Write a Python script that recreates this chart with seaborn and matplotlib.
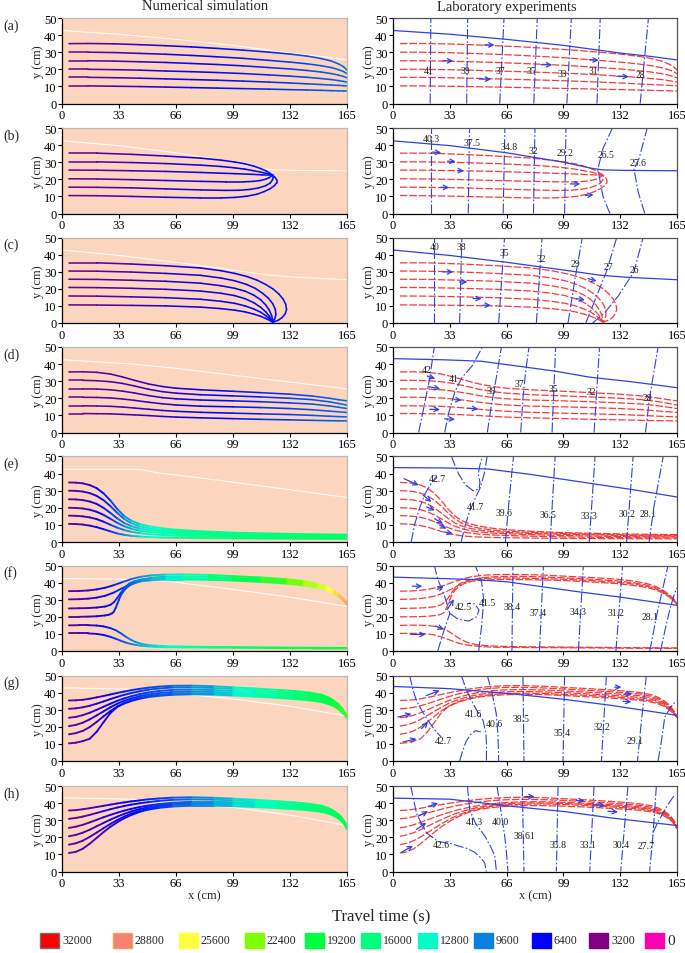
import numpy as np
import pandas as pd
import matplotlib
matplotlib.use("Agg")
import matplotlib.pyplot as plt
import seaborn as sns
from matplotlib.collections import LineCollection
from matplotlib.colors import LinearSegmentedColormap, Normalize
from matplotlib.patches import Rectangle

## Travel-time legend (s) and colours
legend_values = [32000, 28800, 25600, 22400, 19200, 16000, 12800, 9600, 6400, 3200, 0]
legend_colors = ["#FF0000", "#FA8072", "#FFFF40", "#80FF00", "#00FF40", "#00FF80",
                 "#00FFC8", "#0A80E0", "#0000FF", "#800080", "#FF00B0"]

row_labels = ["(a)", "(b)", "(c)", "(d)", "(e)", "(f)", "(g)", "(h)"]
x_ticks = [0, 33, 66, 99, 132, 165]
y_ticks = [0, 10, 20, 30, 40, 50]

# ---- streamlines (x, y in cm), six per panel ----
xg_a = [4, 15, 30, 45, 60, 75, 90, 105, 120, 132, 142, 150, 156, 160, 163, 165]
ys_a = [
    [35, 35.1, 34.9, 34.4, 33.8, 33.1, 32.2, 31.2, 30, 28.9, 27.7, 26.3, 24.8, 23.2, 21.5, 19.5],
    [30, 30, 29.8, 29.3, 28.8, 28.1, 27.3, 26.4, 25.2, 24.2, 23.2, 22.1, 21, 19.8, 18.7, 17.4],
    [25, 25, 24.8, 24.4, 24, 23.4, 22.8, 22, 21, 20.2, 19.3, 18.4, 17.5, 16.6, 15.8, 15],
    [20, 20, 19.8, 19.5, 19, 18.6, 18.1, 17.5, 16.7, 16, 15.3, 14.6, 14, 13.4, 12.9, 12.5],
    [15.3, 15.3, 15.1, 14.8, 14.4, 14, 13.6, 13.1, 12.5, 12, 11.5, 11.1, 10.8, 10.6, 10.4, 10.3],
    [10.3, 10.3, 10.1, 9.9, 9.6, 9.3, 9, 8.7, 8.4, 8.1, 7.9, 7.7, 7.5, 7.4, 7.35, 7.3],
]
stream_b = [
    [(4, 35.3), (20, 35.3), (40, 34.6), (60, 33.6), (80, 32.4), (92, 31.2), (100, 30.1), (106, 29), (111, 27.7), (115, 26.3), (118, 25), (120, 23.8), (122, 22.4)],
    [(4, 30.2), (20, 30.2), (40, 29.8), (60, 29.2), (80, 28.3), (92, 27.5), (100, 26.7), (106, 25.9), (111, 25), (115, 24.2), (118, 23.5), (120, 23), (122, 22.4)],
    [(4, 25.4), (20, 25.3), (40, 25), (60, 24.6), (80, 24), (100, 23.3), (110, 22.9), (116, 22.6), (122, 22.4)],
    [(4, 20.3), (20, 20.2), (40, 19.8), (60, 19.3), (80, 18.8), (95, 18.5), (105, 18.5), (111, 18.8), (115, 19.3), (118, 20.1), (120, 21), (122, 22.4)],
    [(4, 15.4), (20, 15.3), (40, 15), (60, 14.4), (80, 13.8), (95, 13.5), (103, 13.6), (109, 14.1), (114, 15), (118, 16.3), (120.5, 17.8), (121.8, 19.5), (122.3, 21), (122, 22.4)],
    [(4, 10.5), (20, 10.4), (40, 10), (60, 9.5), (80, 9.1), (92, 9.1), (100, 9.4), (107, 10.1), (113, 11.3), (117, 12.8), (120.5, 14.5), (123, 16.3), (124.3, 18), (124.3, 19.5), (123.5, 21), (122, 22.4)],
]
stream_c = [
    [(4, 35.2), (20, 35.2), (40, 34.5), (60, 33.5), (80, 32.2), (92, 30.6), (100, 29), (107, 27.2), (113, 25), (118, 22.5), (122, 20), (125.5, 17), (128, 14), (129.5, 11), (130, 8), (129.3, 5.5), (127.5, 3.2), (125, 1.5), (122, 0.5)],
    [(4, 30.4), (20, 30.3), (40, 29.8), (60, 29), (80, 27.9), (92, 26.3), (100, 24.7), (107, 22.5), (112, 20.2), (116, 17.5), (119.5, 14.5), (122, 11.3), (123.5, 8), (123.8, 5), (123.2, 2.5), (122, 0.5)],
    [(4, 25.6), (20, 25.5), (40, 25), (60, 24.4), (80, 23.3), (92, 21.8), (100, 20.3), (106, 18.6), (111, 16.3), (115, 13.6), (118, 10.5), (120, 7.5), (121.3, 4.5), (121.9, 2.2), (122, 0.5)],
    [(4, 20.8), (20, 20.7), (40, 20.3), (60, 19.7), (80, 18.7), (92, 17.4), (100, 16), (106, 14.2), (111, 11.9), (115, 9.2), (118, 6.5), (120, 4), (121.3, 2), (122, 0.5)],
    [(4, 15.8), (20, 15.7), (40, 15.3), (60, 14.8), (80, 13.9), (92, 12.7), (100, 11.5), (106, 10), (111, 8.2), (115, 6.3), (118, 4.3), (120.3, 2.3), (122, 0.5)],
    [(4, 10.6), (20, 10.5), (40, 10.3), (60, 10), (80, 9.3), (92, 8.4), (100, 7.5), (106, 6.5), (111, 5.2), (115, 3.9), (118, 2.6), (120.3, 1.5), (122, 0.5)],
]
xg_d = [4, 12, 20, 28, 35, 42, 50, 58, 66, 80, 99, 115, 132, 145, 155, 160, 165]
ys_d = [
    [35.4, 35.5, 35.2, 34.2, 32.5, 30.5, 28.4, 26.9, 25.9, 25, 24.1, 23.3, 22.4, 21.3, 20, 19.2, 18.5],
    [30.5, 30.5, 30.3, 29.7, 28.7, 27.2, 25.3, 23.9, 23, 22.1, 21.4, 20.8, 20, 19.2, 17.9, 17, 16],
    [25.5, 25.5, 25.4, 25, 24.2, 23.1, 21.6, 20.4, 19.7, 19, 18.5, 18, 17.3, 16.6, 15.5, 14.8, 14],
    [20.6, 20.6, 20.5, 20.2, 19.6, 18.8, 17.7, 16.8, 16.1, 15.4, 15, 14.6, 14, 13.3, 12.5, 12.1, 11.7],
    [15.6, 15.6, 15.5, 15.3, 14.9, 14.3, 13.6, 12.9, 12.4, 11.8, 11.3, 10.9, 10.5, 10, 9.5, 9.3, 9.1],
    [11.1, 11.1, 11, 10.9, 10.6, 10.3, 9.9, 9.4, 9, 8.6, 8.1, 7.7, 7.4, 7.1, 6.9, 6.85, 6.8],
]
xg_e = [4, 8, 12, 16, 20, 24, 28, 32, 36, 40, 45, 50, 58, 66, 80, 99, 120, 140, 165]
ys_e = [
    [34.8, 34.7, 34.3, 33.3, 31.5, 28.5, 24.3, 19.3, 15.2, 12.5, 10.5, 9.3, 8, 7.2, 6.3, 5.5, 5, 4.6, 4.3],
    [30, 29.9, 29.5, 28.6, 27, 24.5, 21, 17, 13.5, 11, 9.2, 8.1, 7, 6.3, 5.6, 5, 4.5, 4.1, 3.8],
    [25, 24.9, 24.5, 23.7, 22.3, 20, 17, 13.8, 11.1, 9.3, 7.9, 7, 6.1, 5.6, 5, 4.5, 4.1, 3.7, 3.4],
    [20, 19.9, 19.6, 18.9, 17.7, 15.9, 13.6, 11.2, 9.2, 7.8, 6.6, 5.9, 5.2, 4.8, 4.3, 3.8, 3.4, 3.1, 2.9],
    [15.4, 15.3, 15, 14.4, 13.4, 11.9, 10.1, 8.4, 7, 6, 5.2, 4.6, 4.1, 3.8, 3.4, 3, 2.7, 2.5, 2.4],
    [10.6, 10.5, 10.2, 9.6, 8.7, 7.5, 6.2, 5, 4.2, 3.6, 3.2, 2.9, 2.6, 2.5, 2.3, 2.1, 1.95, 1.85, 1.8],
]
xf_top = [4, 10, 15, 20, 25, 30, 35, 40, 45, 52, 60, 70, 85, 99, 115, 130, 140, 148, 153, 157, 160, 162, 164, 165]
xf_3 = [4, 10, 15, 20, 25, 28, 30, 32, 34, 36, 39, 42, 46, 52, 60, 70, 85, 99, 115, 130, 140, 148, 153, 157, 160, 162, 164, 165]
xf_4 = [4, 10, 15, 20, 25, 27, 29, 30, 31, 32, 33, 34, 36, 38, 40, 43, 46, 52, 60, 70, 85, 99, 115, 130, 140, 148, 153, 157, 160, 162, 164, 165]
xf_low = [4, 10, 15, 20, 24, 28, 31, 34, 37, 40, 43, 46, 50, 55, 60, 70, 85, 99, 120, 140, 165]
yf_1 = [35, 35.1, 35.4, 36, 37, 38.5, 40.3, 42, 43.3, 44.3, 44.7, 44.8, 44.5, 43.8, 43, 42, 40.9, 39.3, 37.6, 35.5, 33.3, 31.5, 29.3, 27.8]
yf_2 = [30.2, 30.3, 30.6, 31.2, 32.3, 34.2, 36.8, 39.4, 41.4, 42.9, 43.5, 43.7, 43.4, 42.8, 42, 41, 39.9, 38.4, 36.8, 34.8, 32.7, 31, 29, 27.5]
yf_3 = [24.9, 25, 25.1, 25.4, 26, 27, 28.5, 31, 34, 36.7, 39.5, 40.8, 41.8, 42.4, 42.7, 42.7, 42.4, 42, 41.2, 40.2, 39.1, 37.7, 36.2, 34.3, 32.3, 30.7, 28.8, 27.3]
yf_4 = [20, 20, 20.1, 20.3, 20.8, 21.2, 22, 23, 25, 27.5, 30, 32.5, 35.5, 37.5, 38.8, 40, 40.8, 41.4, 41.8, 41.8, 41.6, 41.2, 40.4, 39.4, 38.3, 37, 35.6, 33.8, 31.9, 30.3, 28.5, 27.1]
yf_5 = [15, 15.1, 15.1, 14.9, 14.4, 13.4, 12.2, 10.4, 8.3, 6.5, 5.1, 4.2, 3.5, 3.1, 2.8, 2.6, 2.4, 2.3, 2.1, 1.95, 1.8]
yf_6 = [10.3, 10.3, 10.3, 10, 9.4, 8.3, 7.2, 6, 4.9, 4.1, 3.5, 3.1, 2.7, 2.4, 2.2, 2.1, 2, 1.9, 1.75, 1.6, 1.5]
xg_gh = [4, 8, 12, 16, 20, 24, 28, 32, 36, 40, 45, 50, 56, 64, 75, 88, 99, 112, 125, 135, 143, 150, 154, 157, 160, 162, 164, 165]
ys_g = [
    [35.4, 35.5, 35.8, 36.4, 37.2, 38, 38.9, 39.8, 40.6, 41.4, 42.2, 42.9, 43.5, 44, 44.1, 43.7, 43.1, 42.4, 41.6, 40.9, 40.1, 38.8, 37.3, 35.6, 33.2, 31, 28, 25.3],
    [30.5, 30.8, 31.4, 32.3, 33.5, 34.8, 36.2, 37.5, 38.7, 39.7, 40.8, 41.7, 42.4, 43, 43.1, 42.7, 42.1, 41.4, 40.6, 39.9, 39.2, 37.9, 36.5, 34.9, 32.6, 30.5, 27.7, 25.3],
    [25.3, 25.8, 26.8, 28.2, 29.9, 31.7, 33.5, 35.2, 36.6, 37.8, 39.1, 40.1, 40.9, 41.6, 41.8, 41.5, 41, 40.3, 39.6, 38.9, 38.2, 37, 35.7, 34.2, 32, 30, 27.4, 25.3],
    [20.4, 21.1, 22.4, 24.3, 26.6, 29, 31.4, 33.5, 35.2, 36.5, 37.9, 38.9, 39.7, 40.4, 40.7, 40.4, 40, 39.3, 38.6, 37.9, 37.2, 36.1, 34.9, 33.5, 31.4, 29.5, 27.1, 25.3],
    [15.6, 16.3, 17.6, 19.8, 22.8, 26.1, 29.2, 31.9, 33.9, 35.4, 36.9, 37.9, 38.7, 39.4, 39.7, 39.5, 39, 38.4, 37.7, 37, 36.3, 35.2, 34.1, 32.8, 30.8, 29, 26.8, 25.3],
    [10.3, 10.7, 11.6, 13, 17, 22.6, 28, 31.6, 33.6, 35, 36.4, 37.4, 38.1, 38.7, 39, 38.8, 38.3, 37.6, 36.9, 36.2, 35.5, 34.5, 33.4, 32.2, 30.3, 28.6, 26.6, 25.3],
]
ys_h = [
    [35.7, 35.9, 36.4, 37, 37.7, 38.4, 39.1, 39.8, 40.4, 41, 41.6, 42.2, 42.7, 43.2, 43.4, 43.1, 42.6, 41.9, 41.1, 40.4, 39.6, 38.5, 37.2, 35.7, 33.5, 31.5, 28.5, 25],
    [30.8, 31.3, 32.1, 33.1, 34.2, 35.3, 36.4, 37.4, 38.3, 39.1, 39.9, 40.6, 41.3, 41.9, 42.2, 42, 41.6, 40.9, 40.1, 39.4, 38.7, 37.6, 36.4, 35, 32.9, 31, 28.2, 25],
    [25.5, 26.2, 27.3, 28.7, 30.2, 31.7, 33.1, 34.4, 35.6, 36.6, 37.7, 38.6, 39.4, 40.2, 40.8, 40.8, 40.5, 39.9, 39.2, 38.5, 37.8, 36.8, 35.6, 34.3, 32.3, 30.5, 27.8, 25],
    [20.6, 21.4, 22.7, 24.4, 26.4, 28.4, 30.3, 32.1, 33.7, 35.1, 36.5, 37.6, 38.6, 39.5, 40.1, 40.1, 39.8, 39.3, 38.6, 37.9, 37.2, 36.2, 35.1, 33.8, 31.8, 30, 27.4, 25],
    [15.7, 16.5, 18, 20.2, 22.7, 25.3, 27.8, 30.1, 32.1, 33.8, 35.5, 36.8, 37.9, 38.9, 39.4, 39.5, 39.2, 38.6, 37.9, 37.2, 36.6, 35.6, 34.5, 33.3, 31.4, 29.6, 27.1, 25],
    [10.8, 11.5, 13.3, 16.2, 19.6, 23, 26.1, 28.8, 31.1, 33, 34.9, 36.2, 37.2, 38, 38.5, 38.5, 38.2, 37.7, 37, 36.4, 35.8, 34.9, 33.9, 32.8, 31, 29.3, 26.9, 25],
]

stream_a = [list(zip(xg_a, y)) for y in ys_a]
stream_d = [list(zip(xg_d, y)) for y in ys_d]
stream_e = [list(zip(xg_e, y)) for y in ys_e]
stream_f = [list(zip(xf_top, yf_1)), list(zip(xf_top, yf_2)), list(zip(xf_3, yf_3)),
            list(zip(xf_4, yf_4)), list(zip(xf_low, yf_5)), list(zip(xf_low, yf_6))]
stream_g = [list(zip(xg_gh, y)) for y in ys_g]
stream_h = [list(zip(xg_gh, y)) for y in ys_h]

# ---- travel time along x (s), used for the colour of the simulated streamlines ----
time_a = ([0, 60, 165], [3200, 5600, 9000])
time_b = ([0, 60, 125], [3200, 5400, 7000])
time_c = ([0, 60, 130], [3200, 5400, 7000])
time_d = ([0, 60, 165], [3200, 5600, 9000])
time_e = ([0, 15, 30, 45, 70, 165], [3200, 5000, 8000, 12000, 15000, 17500])
time_f = ([0, 20, 35, 50, 66, 100, 132, 150, 165], [3200, 5500, 8000, 10500, 12500, 17500, 21500, 24500, 28000])
time_f_low = ([0, 20, 35, 50, 70, 100, 165], [3200, 5500, 8500, 11500, 14000, 16500, 19500])
time_g = ([0, 15, 35, 66, 100, 132, 165], [3200, 5000, 7000, 9000, 12000, 16000, 20500])
time_h = ([0, 20, 40, 66, 100, 132, 165], [3200, 4800, 6300, 8500, 11500, 15000, 18500])

# ---- water table (white line in simulation, blue line in experiments) ----
wt_a = [(0, 42.7), (33, 40.5), (66, 37.5), (99, 34), (132, 29.5), (150, 27.5), (165, 25.5)]
wt_b = [(0, 42.5), (33, 39.7), (66, 35.5), (99, 30), (115, 26.5), (122, 25.5), (135, 25.2), (165, 25)]
wt_c = [(0, 42.7), (33, 39.5), (66, 35.5), (99, 31), (120, 28), (135, 26.8), (165, 25.3)]
wt_d = [(0, 42.6), (41, 40), (66, 37.5), (99, 33.5), (132, 29.5), (165, 25.5)]
wt_e = [(0, 42.5), (45, 42.5), (55, 40.5), (80, 37.5), (110, 33.5), (140, 29.5), (165, 26)]
wt_f = [(0, 42.4), (33, 42), (60, 40.9), (99, 36), (132, 31.5), (165, 26)]
wt_g = [(0, 42.8), (40, 42), (66, 39.5), (99, 36.3), (132, 32), (165, 26.3)]
wt_h = [(0, 43.1), (40, 42.3), (66, 40), (99, 37.5), (132, 33), (165, 26.9)]
wt_d_lab = [(0, 43.2), (30, 42.5), (51, 41.7), (75, 38.5), (94, 35.9), (114, 32.4), (140, 29.5), (165, 26.2)]
wt_e_lab = [(0, 43.5), (30, 43.3), (55, 42.7), (80, 39.5), (110, 35), (140, 30.5), (165, 26.3)]
wt_f_lab = [(0, 43.2), (47, 41.8), (66, 40.5), (105, 35), (132, 31.5), (165, 26.7)]
wt_g_lab = [(0, 43.6), (33, 42.3), (69, 39.3), (100, 36), (127, 32.5), (165, 26.7)]
wt_h_lab = [(0, 42.9), (33, 42.3), (69, 38.1), (100, 35), (127, 31.3), (165, 26.9)]

# ---- measured head contours (experiments) ----
cont_a = [[(21.6, 0), (22, 50)], [(42.8, 0), (43.4, 50)], [(62, 0), (64.5, 50)], [(81.8, 0), (83.8, 50)],
          [(101, 0), (103.6, 50)], [(118.5, 0), (120.4, 50)], [(143.6, 0), (148.4, 50)]]
clab_a = [("41", 21, 19.2), ("39", 42, 19.2), ("37", 62.5, 19.2), ("35", 80.5, 19.5),
          ("33", 98.5, 17.8), ("31", 116.5, 19.2), ("28", 143.5, 16.9)]
cont_b = [[(22, 0), (22, 50)], [(43.7, 0), (44.5, 50)], [(64, 0), (65, 50)], [(81.6, 0), (82.5, 50)],
          [(99.7, 0), (100.5, 50)], [(126, 0), (122, 10), (119, 26), (122, 38), (127.5, 50)],
          [(146.3, 0), (142.5, 12.4), (140, 26), (142.9, 32), (147.7, 50)]]
clab_b = [("40.3", 22, 44), ("37.5", 46, 41.8), ("34.8", 67.5, 39.2), ("32", 81.5, 36.6),
          ("29.2", 100, 35.5), ("26.5", 123.5, 34.5), ("25.6", 142.5, 29.8)]
cont_c = [[(23.8, 0), (23.8, 50)], [(38.7, 0), (40, 50)], [(61.4, 0), (64.8, 50)], [(83.3, 0), (86.6, 50)],
          [(101.7, 0), (105.6, 25), (110, 50)], [(112, 0), (118, 15), (124, 30), (130, 50)],
          [(116, 0), (123, 6), (131, 16), (140, 30), (145.3, 50)]]
clab_c = [("40", 24, 45), ("38", 40, 44.5), ("35", 64.5, 41), ("32", 86, 37.7),
          ("29", 106, 34.8), ("27", 125, 33.2), ("26", 140, 31.3)]
cont_d = [[(14.9, 0), (18, 15), (21, 30), (24, 50)], [(30, 0), (32.5, 12), (36, 24), (40, 32), (46, 39), (52, 50)],
          [(54.8, 0), (57, 15), (60, 32), (63, 50)], [(74.2, 0), (75.5, 20), (77, 35), (79, 50)],
          [(92.4, 0), (94.5, 50)], [(116.8, 0), (120, 50)], [(146.7, 0), (149, 20), (154, 50)]]
clab_d = [("42", 19.5, 36.8), ("41", 35.5, 31.6), ("39", 57, 24.8), ("37", 73.5, 28.5),
          ("35", 93, 26), ("32", 115.5, 24), ("28", 148, 20.5)]
cont_e = [[(10.6, 0), (12.5, 10), (15.5, 20), (18.5, 28), (22, 34), (25, 38)],
          [(34, 50), (35.5, 46), (38, 40), (42, 33.5), (46.5, 30), (50, 31), (50.5, 35), (49.5, 40), (50.5, 45), (52, 50)],
          [(39.6, 0), (42, 10), (44.7, 18.5), (48, 26), (50.8, 32), (53, 40), (54.7, 50)],
          [(65.3, 0), (67.5, 25), (70, 50)], [(91.3, 0), (92.7, 25), (94.2, 50)],
          [(114, 0), (115.7, 25), (117.4, 50)], [(135.7, 0), (137.6, 25), (139.5, 50)],
          [(148.8, 0), (151.5, 20), (157, 50)]]
clab_e = [("42.7", 25.7, 37), ("41.7", 47.8, 20.5), ("39.6", 64.3, 17), ("36.5", 90.3, 16.2),
          ("33.3", 113.7, 15.6), ("30.2", 135.7, 16.5), ("28.1", 148.5, 16.5)]
cont_f = [[(26, 0), (29, 10), (33, 22), (30, 32), (26, 42), (24, 50)],
          [(33, 22), (38, 18.5), (44, 17.5), (48.5, 20), (50, 24), (47.5, 27.5), (44, 28)],
          [(49.8, 0), (51.5, 15), (52.7, 30), (51.5, 40), (47.8, 50)],
          [(69.1, 0), (69.7, 50)], [(85.1, 0), (87.4, 50)], [(107.7, 0), (110.6, 50)],
          [(129.5, 0), (133.4, 50)], [(149.2, 0), (153, 20), (159.8, 50)],
          [(155.4, 0), (158, 12), (161, 25), (163.7, 34), (165, 37)]]
clab_f = [("42.5", 41.1, 25.9), ("41.5", 54.6, 28.2), ("38.4", 69.1, 26.3), ("37.4", 84.5, 22.8),
          ("34.3", 107.7, 23.3), ("31.2", 129.5, 22.3), ("28.1", 149.2, 20.4)]
cont_g = [[(9.7, 50), (11.5, 42), (13.6, 35.4), (17, 29), (20.4, 23.7), (24, 18.5), (28, 14)],
          [(38.7, 0), (40.5, 6), (42.5, 11.5), (45, 15.5), (48, 17.8), (51, 17)],
          [(39.7, 50), (42.5, 42), (45.5, 35.4), (49, 29), (52.3, 23.7), (54, 16), (54.3, 10), (54.3, 0)],
          [(54.8, 50), (57.5, 40), (60, 27.6), (61, 15), (61.4, 0)],
          [(75.5, 50), (76.1, 0)], [(99.7, 50), (98.8, 0)], [(124, 50), (121.1, 0)],
          [(147.2, 50), (144.5, 25), (142, 0)],
          [(154, 0), (156, 12), (157.9, 25.7), (161, 31), (164.6, 35.4)]]
clab_g = [("42.7", 29.1, 12), ("41.6", 46.5, 28), ("40.6", 59.1, 21.8), ("38.5", 74.2, 25),
          ("35.4", 98.2, 16.9), ("32.2", 121.5, 20.4), ("29.1", 140.8, 11.7)]
cont_h = [[(10.3, 50), (12, 42), (13.6, 34.2), (16.5, 28), (19.4, 22.7), (26.2, 17.5), (33, 16.5), (37.8, 15),
           (43, 13.5), (47.5, 11.2), (51, 8), (53.3, 5), (54.2, 0)],
          [(43.2, 50), (44, 42), (44.6, 36), (48, 28), (53.3, 20.8), (57, 14), (59.1, 9.2), (60.1, 0)],
          [(60.4, 50), (62, 40), (64.9, 20.8), (66, 10), (66.8, 0)],
          [(75.1, 50), (76.1, 0)], [(95.9, 50), (94.9, 0)], [(116.8, 50), (114.3, 0)],
          [(136.5, 50), (132.3, 0)], [(153, 50), (152, 35), (151, 20.8), (149.1, 0)],
          [(151, 22.7), (154, 29), (157.9, 36), (161, 41), (163.6, 44.8)]]
clab_h = [("42.6", 28.1, 16), ("41.3", 47.5, 29), ("40.0", 62.6, 29), ("38.61", 76.5, 20.8),
          ("35.8", 95.9, 16), ("33.1", 113.4, 16), ("30.4", 132.7, 16), ("27.7", 147.2, 15)]

# ---- flow arrows in experiments: tail (x, y) and head (x, y) ----
arrows_a = [(53, 34.3, 59, 34.2), (29, 25, 35, 24.9), (86, 22.7, 92.5, 22.6), (114, 25.5, 119.5, 25.3), (130, 15.9, 137, 15.7), (50, 14.3, 57, 14.2)]
arrows_b = [(23, 35.9, 28, 35.6), (31.6, 30.6, 36.4, 30.4), (37.4, 25.1, 41.2, 25), (27.8, 15.3, 32.6, 15.2), (103, 17.3, 108.8, 17.3), (111.7, 10.5, 116.5, 11)]
arrows_c = [(29, 29.9, 35, 29.9), (38.7, 24, 43.2, 24), (46.5, 14.3, 51.5, 14.3), (52.3, 10.4, 56.8, 10.4), (113.3, 26, 118.3, 24.5), (106.5, 14.3, 111.5, 13.5)]
arrows_d = [(20, 33, 24.5, 31.5), (20.4, 26.8, 27.4, 25.6), (35.8, 19.2, 39.8, 18.9), (43.5, 14.2, 49.5, 13.8), (21.3, 13.6, 27.3, 13.4), (30, 8, 36, 7.7)]
arrows_e = [(6.4, 37, 15, 33.2), (17.6, 27.3, 22.3, 23.4), (19.6, 20.5, 24.3, 18.5), (24.2, 13.6, 29, 10.7), (27.2, 9.8, 31, 7.8), (30, 5.9, 34.8, 4.9)]
arrows_f = [(11.2, 37.9, 17, 37.9), (25.7, 36, 29.5, 38), (31.5, 24.3, 35.4, 30.2), (24.8, 14.6, 29.5, 12.6), (10.3, 9.7, 19, 9.7)]
arrows_g = [(19.4, 38.3, 27.1, 41.2), (2.9, 25.7, 10.7, 27.6), (16.5, 18.9, 20.4, 22.8), (5.8, 11.1, 13.6, 13), (128.8, 43.2, 132.7, 43.1), (134.6, 39.3, 138.9, 39.1), (133.6, 34.9, 138.5, 34.6)]
arrows_h = [(76.5, 43.8, 82.3, 43.8), (106.5, 41.5, 111.3, 41.3), (116.2, 39, 123, 38.7), (124.9, 35.2, 130.7, 34.8), (20.4, 38, 26.2, 40), (14.5, 32.3, 20.4, 35.2), (13.6, 24.6, 19.4, 28.5), (4.8, 11.2, 11.6, 15)]

streams = [stream_a, stream_b, stream_c, stream_d, stream_e, stream_f, stream_g, stream_h]
times = [time_a, time_b, time_c, time_d, time_e, time_f, time_g, time_h]
tables_sim = [wt_a, wt_b, wt_c, wt_d, wt_e, wt_f, wt_g, wt_h]
tables_lab = [wt_a, wt_b, wt_c, wt_d_lab, wt_e_lab, wt_f_lab, wt_g_lab, wt_h_lab]
contours = [cont_a, cont_b, cont_c, cont_d, cont_e, cont_f, cont_g, cont_h]
contour_labels = [clab_a, clab_b, clab_c, clab_d, clab_e, clab_f, clab_g, clab_h]
arrows = [arrows_a, arrows_b, arrows_c, arrows_d, arrows_e, arrows_f, arrows_g, arrows_h]

sns.set_style("ticks")
plt.rcParams["font.family"] = ["Liberation Serif", "DejaVu Serif"]

W, H = 685, 954
fig = plt.figure(figsize=(W / 100, H / 100), dpi=100)

cmap = LinearSegmentedColormap.from_list(
    "travel", [(v / 32000, c) for v, c in sorted(zip(legend_values, legend_colors))])
norm = Normalize(0, 32000)

PEACH = "#FCD5BE"
RED = "#F23C3C"
BLUE = "#3040E0"

row_tops = [19, 129, 238.5, 348, 457.5, 566.5, 676.5, 787]
ax_h = 85.5
left_x0, left_w = 62, 285
right_x0, right_w = 393, 284


def style_axes(ax, sim, bottom_row):
    ax.set_xlim(0, 165)
    ax.set_ylim(0, 50)
    ax.set_xticks(x_ticks)
    ax.set_yticks(y_ticks)
    ax.tick_params(direction="out", length=3, width=0.8, labelsize=9, pad=1, colors="black")
    ax.set_ylabel("y (cm)", fontsize=9, labelpad=0)
    ax.set_xlabel("x (cm)" if bottom_row else "", fontsize=9, labelpad=0)
    for s in ["left", "bottom"]:
        ax.spines[s].set_color("black")
        ax.spines[s].set_linewidth(0.9)
    for s in ["top", "right"]:
        ax.spines[s].set_visible(True)
        ax.spines[s].set_color("#BBBBBB" if sim else "#555555")
        ax.spines[s].set_linewidth(0.9)


for i in range(8):
    bottom = 1 - (row_tops[i] + ax_h) / H
    # ---------- numerical simulation ----------
    axl = fig.add_axes([left_x0 / W, bottom, left_w / W, ax_h / H])
    axl.set_facecolor(PEACH)
    wt = np.array(tables_sim[i])
    sns.lineplot(x=wt[:, 0], y=wt[:, 1], sort=False, estimator=None, color="white",
                 lw=0.8, alpha=0.9, ax=axl)
    for k, line in enumerate(streams[i]):
        pts = np.array(line, dtype=float)
        segs = np.stack([pts[:-1], pts[1:]], axis=1)
        mid = (pts[:-1, 0] + pts[1:, 0]) / 2
        tx, tt = time_f_low if (i == 5 and k >= 4) else times[i]
        cols = cmap(norm(np.interp(mid, tx, tt)))
        lc = LineCollection(segs, colors=cols, linewidths=1.15 if i < 4 else 1.35,
                            capstyle="round", joinstyle="round")
        axl.add_collection(lc)
    style_axes(axl, True, i == 7)
    fig.text(3 / W, 1 - (row_tops[i] + 7) / H, row_labels[i], fontsize=10, va="center", ha="left")

    # ---------- laboratory experiments ----------
    axr = fig.add_axes([right_x0 / W, bottom, right_w / W, ax_h / H])
    axr.set_facecolor("white")
    for line in streams[i]:
        df = pd.DataFrame(line, columns=["x", "y"])
        sns.lineplot(data=df, x="x", y="y", sort=False, estimator=None, color=RED, lw=0.9, ax=axr)
        axr.lines[-1].set_dashes([6, 1.6])
    for line in contours[i]:
        df = pd.DataFrame(line, columns=["x", "y"])
        sns.lineplot(data=df, x="x", y="y", sort=False, estimator=None, color=BLUE, lw=0.8, ax=axr)
        axr.lines[-1].set_dashes([9, 2, 1.5, 2])
    wt = pd.DataFrame(tables_lab[i], columns=["x", "y"])
    sns.lineplot(data=wt, x="x", y="y", sort=False, estimator=None, color=BLUE, lw=0.9, ax=axr)
    for txt, x, y in contour_labels[i]:
        axr.text(x, y, txt, fontsize=7, ha="center", va="center", color="#222222")
    for x0, y0, x1, y1 in arrows[i]:
        axr.annotate("", xy=(x1, y1), xytext=(x0, y0),
                     arrowprops=dict(arrowstyle="->", color=BLUE, lw=0.9,
                                     shrinkA=0, shrinkB=0, mutation_scale=8))
    style_axes(axr, False, i == 7)

fig.text(205 / W, 1 - 7 / H, "Numerical simulation", fontsize=10.5, ha="center", va="center")
fig.text(507 / W, 1 - 7 / H, "Laboratory experiments", fontsize=10.5, ha="center", va="center")
fig.text(381 / W, 1 - 916 / H, "Travel time (s)", fontsize=12, ha="center", va="center")

# legend row
axg = fig.add_axes([0, 0, 1, 30 / H])
axg.set_xlim(0, W)
axg.set_ylim(H, H - 30)
axg.axis("off")
leg_x = [40, 113, 179, 245, 305, 361, 418, 474, 532, 589, 645]
for x, v, c in zip(leg_x, legend_values, legend_colors):
    edge = "#707070" if v == 32000 else ("#F0A060" if v == 28800 else c)
    axg.add_patch(Rectangle((x, 934), 19, 15, facecolor=c, edgecolor=edge, lw=1))
    axg.text(x + 22, 941.5, str(v), fontsize=11 if v == 0 else 8.5, va="center", ha="left")

fig.savefig("out.png", dpi=100)
